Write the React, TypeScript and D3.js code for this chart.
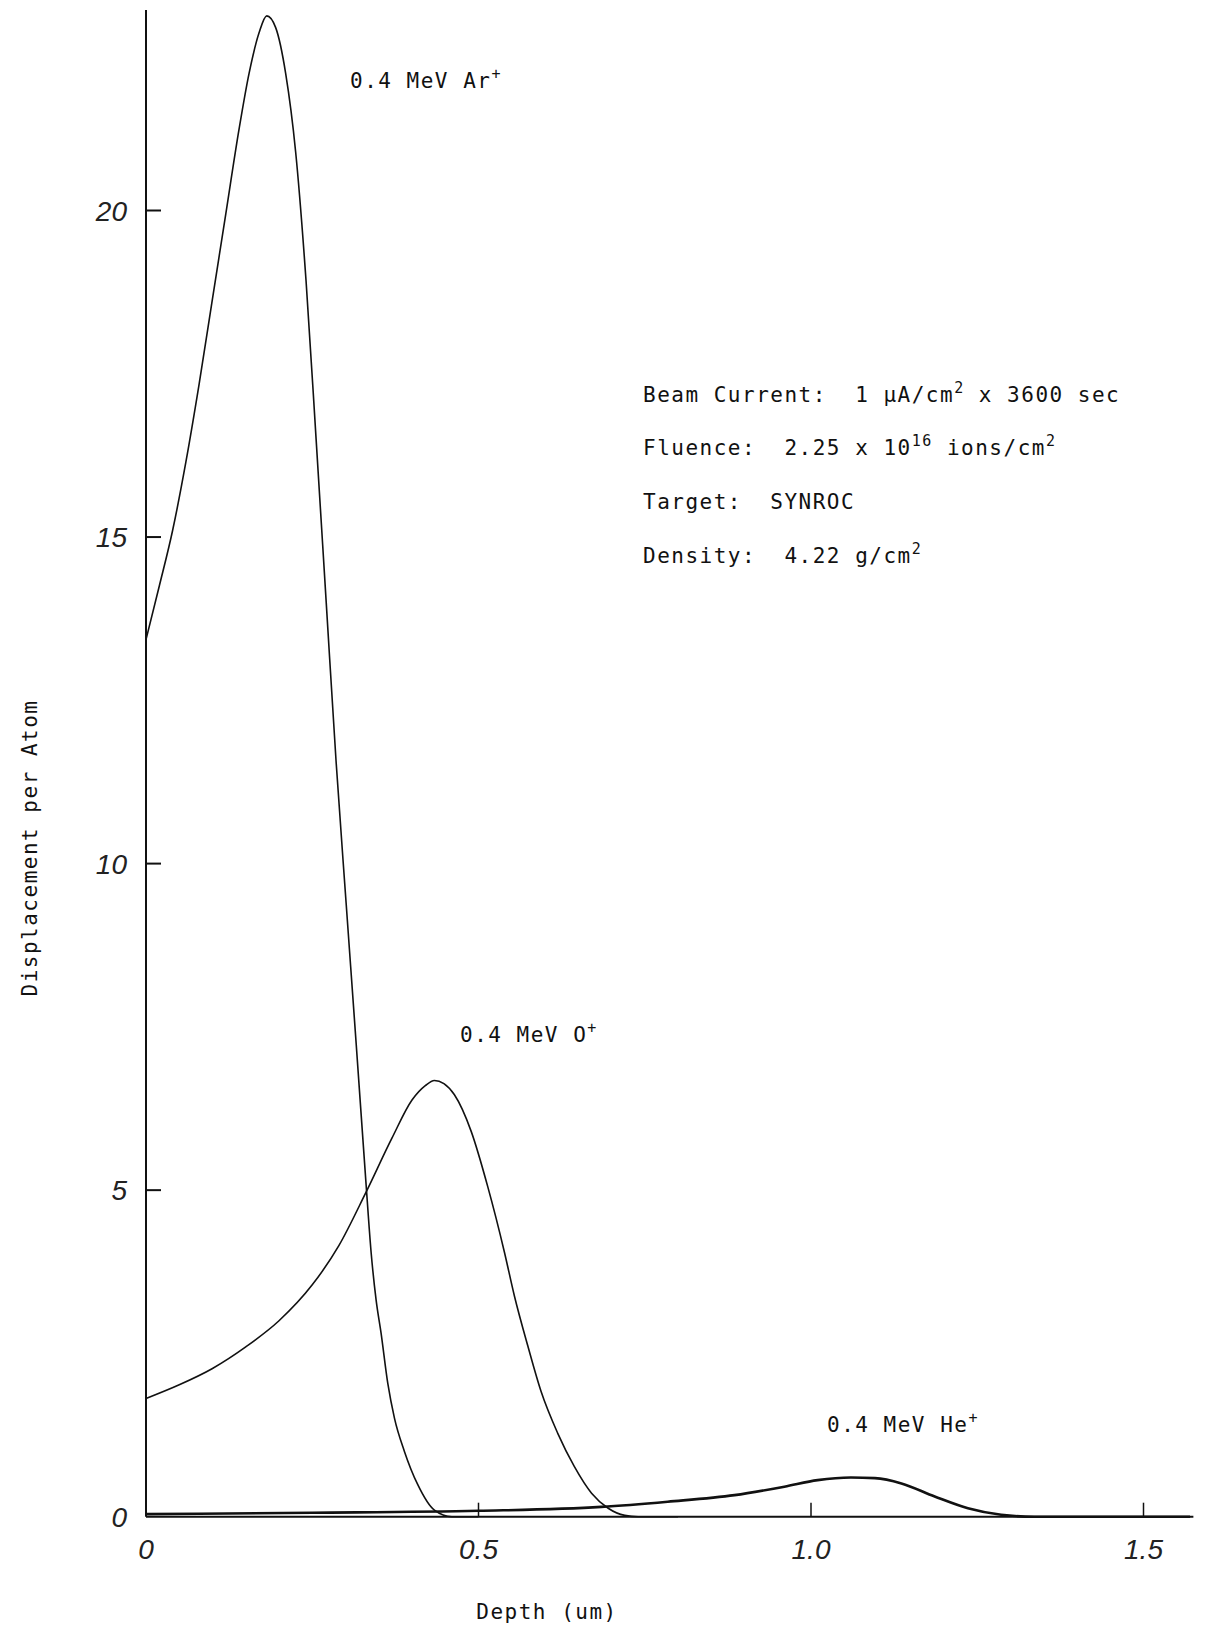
import React from 'react';
import * as d3 from 'd3';

const W = 1209;
const H = 1627;

// depth in um, displacement per atom
const arDepth = [0, 0.02, 0.04, 0.06, 0.08, 0.1, 0.12, 0.14, 0.155, 0.17, 0.1816, 0.195, 0.21, 0.225, 0.2407, 0.2558, 0.271, 0.2858, 0.3009, 0.316, 0.331, 0.3385, 0.346, 0.3535, 0.3636, 0.3736, 0.3886, 0.4087, 0.4337, 0.46, 0.5];
const arDpa = [13.43, 14.25, 15.1, 16.15, 17.35, 18.65, 19.95, 21.25, 22.1, 22.72, 22.98, 22.8, 22.1, 20.9, 18.92, 16.5, 14.0, 11.57, 9.4, 7.25, 5.08, 4.05, 3.32, 2.81, 2.04, 1.51, 1.0, 0.49, 0.1, 0, 0];

const oDepth = [0, 0.05, 0.1, 0.15, 0.2, 0.25, 0.29, 0.33, 0.37, 0.4, 0.42, 0.4337, 0.448, 0.4638, 0.489, 0.514, 0.539, 0.554, 0.574, 0.594, 0.619, 0.644, 0.67, 0.695, 0.72, 0.74, 0.8];
const oDpa = [1.81, 2.02, 2.27, 2.6, 3.0, 3.55, 4.15, 4.95, 5.8, 6.38, 6.6, 6.68, 6.63, 6.46, 5.9, 5.05, 4.05, 3.38, 2.62, 1.92, 1.28, 0.77, 0.36, 0.13, 0.02, 0, 0];

const heDepth = [0, 0.25, 0.5, 0.6845, 0.7845, 0.885, 0.96, 1.01, 1.06, 1.096, 1.136, 1.186, 1.236, 1.286, 1.336, 1.57];
const heDpa = [0.04, 0.06, 0.09, 0.15, 0.23, 0.33, 0.46, 0.56, 0.6, 0.59, 0.51, 0.31, 0.13, 0.03, 0, 0];

const xTicks = [0, 0.5, 1.0, 1.5];
const xTickLabels = ['0', '0.5', '1.0', '1.5'];
const yTicks = [0, 5, 10, 15, 20];
const yTickLabels = ['0', '5', '10', '15', '20'];

const mono = '"DejaVu Sans Mono", "Liberation Mono", monospace';
const hand = '"Liberation Sans", "DejaVu Sans", sans-serif';

export default function App() {
  const x = d3.scaleLinear().domain([0, 1.575]).range([146, 146 + 1.575 * 665]);
  const y = d3.scaleLinear().domain([0, 23.07]).range([1516.7, 10]);

  const line = d3
    .line<[number, number]>()
    .x(d => x(d[0]))
    .y(d => y(d[1]))
    .curve(d3.curveMonotoneX);

  const zip = (a: number[], b: number[]) => a.map((v, i) => [v, b[i]] as [number, number]);

  const pre: React.CSSProperties = { whiteSpace: 'pre' };
  const sup = { dy: -9, fontSize: 15 };

  return (
    <svg
      width={W}
      height={H}
      style={{ position: 'absolute', left: 0, top: 0, background: '#fff' }}
      fontFamily={mono}
    >
      <rect width={W} height={H} fill="#fff" />

      {/* axes */}
      <line x1={x(0)} x2={x(0)} y1={y(23.07)} y2={y(0)} stroke="#111" strokeWidth={2} />
      <line x1={x(0)} x2={x(1.575)} y1={y(0)} y2={y(0)} stroke="#111" strokeWidth={2} />

      {yTicks.map((t, i) => (
        <g key={'y' + t}>
          {t > 0 && <line x1={x(0)} x2={x(0) + 15} y1={y(t)} y2={y(t)} stroke="#111" strokeWidth={2} />}
          <text x={127} y={y(t)} dy="0.36em" textAnchor="end" fontFamily={hand} fontStyle="italic" fontSize={28} fill="#222">
            {yTickLabels[i]}
          </text>
        </g>
      ))}

      {xTicks.map((t, i) => (
        <g key={'x' + t}>
          {t > 0 && <line x1={x(t)} x2={x(t)} y1={y(0)} y2={y(0) - 14} stroke="#111" strokeWidth={1.5} />}
          <text x={x(t)} y={1559} textAnchor="middle" fontFamily={hand} fontStyle="italic" fontSize={28} fill="#222">
            {xTickLabels[i]}
          </text>
        </g>
      ))}

      {/* curves */}
      <path d={line(zip(arDepth, arDpa)) || ''} fill="none" stroke="#111" strokeWidth={1.6} />
      <path d={line(zip(oDepth, oDpa)) || ''} fill="none" stroke="#111" strokeWidth={1.6} />
      <path d={line(zip(heDepth, heDpa)) || ''} fill="none" stroke="#111" strokeWidth={2.6} />

      {/* labels */}
      <g fontSize={21} letterSpacing={1.5} fill="#111">
        <text x={350} y={88} xmlSpace="preserve" style={pre}>0.4 MeV Ar<tspan {...sup}>+</tspan></text>
        <text x={460} y={1042} xmlSpace="preserve" style={pre}>0.4 MeV O<tspan {...sup}>+</tspan></text>
        <text x={827} y={1432} xmlSpace="preserve" style={pre}>0.4 MeV He<tspan {...sup}>+</tspan></text>

        <text x={643} y={402} xmlSpace="preserve" style={pre}>
          Beam Current:  1 μA/cm<tspan {...sup}>2</tspan><tspan dy={9}> x 3600 sec</tspan>
        </text>
        <text x={643} y={455} xmlSpace="preserve" style={pre}>
          Fluence:  2.25 x 10<tspan {...sup}>16</tspan><tspan dy={9}> ions/cm</tspan><tspan {...sup}>2</tspan>
        </text>
        <text x={643} y={509} xmlSpace="preserve" style={pre}>Target:  SYNROC</text>
        <text x={643} y={563} xmlSpace="preserve" style={pre}>
          Density:  4.22 g/cm<tspan {...sup}>2</tspan>
        </text>

        <text x={547} y={1619} textAnchor="middle" xmlSpace="preserve" style={pre}>Depth (um)</text>
        <text transform="translate(37,848) rotate(-90)" textAnchor="middle" xmlSpace="preserve" style={pre}>
          Displacement per Atom
        </text>
      </g>
    </svg>
  );
}
